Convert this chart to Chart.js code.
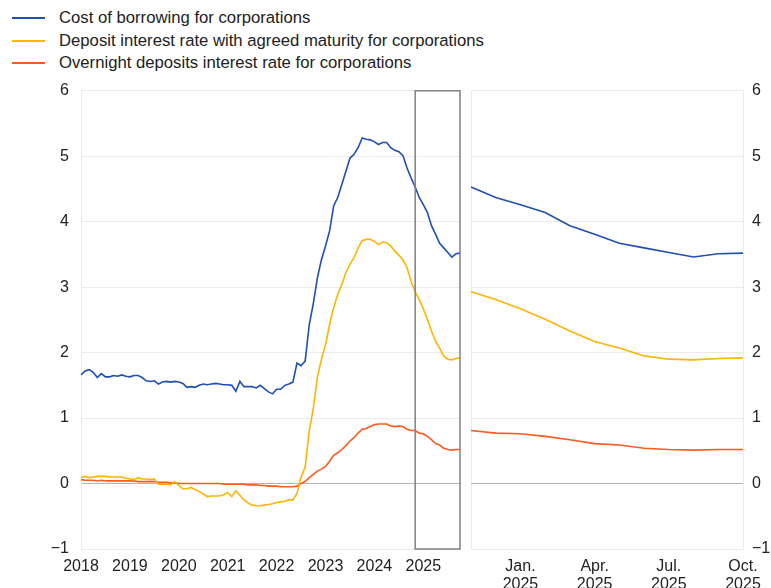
<!DOCTYPE html>
<html>
<head>
<meta charset="utf-8">
<script src="https://cdn.jsdelivr.net/npm/chart.js@4"></script>
<style>
  body { margin: 0; width: 771px; height: 588px; background: #fff; position: relative; overflow: hidden;
         font-family: "Liberation Sans", Arial, sans-serif; }
  #legend { position: absolute; left: 12px; top: 7px; font-size: 16.7px; color: #222; }
  .item { height: 22.5px; display: flex; align-items: center; white-space: nowrap; }
  .swatch { width: 33px; height: 2px; margin-right: 14px; }
  #leftChart { position: absolute; left: 0; top: 70px; }
  #rightChart { position: absolute; left: 462px; top: 73px; }
</style>
</head>
<body>
<div id="legend"></div>
<canvas id="leftChart" width="470" height="518"></canvas>
<canvas id="rightChart" width="309" height="515"></canvas>
<script>
// Monthly data, Jan 2018 - Oct 2024
const blueHist = [
  1.66, 1.72, 1.74, 1.70, 1.62, 1.68, 1.63, 1.63, 1.65, 1.64,
  1.66, 1.64, 1.63, 1.65, 1.65, 1.62, 1.57, 1.56, 1.57, 1.52,
  1.55, 1.56, 1.55, 1.56, 1.55, 1.53, 1.47, 1.48, 1.47, 1.50,
  1.52, 1.51, 1.52, 1.53, 1.52, 1.51, 1.51, 1.50, 1.41, 1.56,
  1.48, 1.48, 1.48, 1.46, 1.50, 1.45, 1.40, 1.37, 1.44, 1.44,
  1.50, 1.52, 1.55, 1.84, 1.80, 1.87, 2.42, 2.75, 3.14, 3.42,
  3.63, 3.86, 4.24, 4.37, 4.57, 4.77, 4.97, 5.03, 5.13, 5.28,
  5.26, 5.25, 5.22, 5.18, 5.21, 5.21, 5.13, 5.09, 5.07, 5.01,
  4.82, 4.67
];
const yellowHist = [
  0.09, 0.11, 0.09, 0.10, 0.11, 0.11, 0.11, 0.10, 0.10, 0.10,
  0.10, 0.08, 0.07, 0.06, 0.09, 0.07, 0.07, 0.06, 0.07, -0.01,
  -0.01, -0.01, -0.02, 0.03, -0.03, -0.08, -0.08, -0.06, -0.09, -0.12,
  -0.16, -0.20, -0.19, -0.19, -0.19, -0.17, -0.14, -0.20, -0.11, -0.18,
  -0.25, -0.30, -0.33, -0.34, -0.34, -0.33, -0.32, -0.31, -0.29, -0.28,
  -0.27, -0.25, -0.25, -0.15, 0.10, 0.25, 0.80, 1.15, 1.62, 1.90,
  2.12, 2.43, 2.69, 2.89, 3.04, 3.22, 3.35, 3.45, 3.60, 3.71,
  3.73, 3.73, 3.70, 3.65, 3.69, 3.68, 3.63, 3.55, 3.49, 3.42,
  3.30, 3.09
];
const redHist = [
  0.06, 0.05, 0.05, 0.05, 0.04, 0.05, 0.04, 0.04, 0.04, 0.04,
  0.04, 0.04, 0.04, 0.04, 0.03, 0.03, 0.03, 0.03, 0.03, 0.02,
  0.02, 0.02, 0.01, 0.01, 0.00, 0.00, 0.00, 0.00, 0.00, 0.00,
  0.00, 0.00, 0.00, 0.00, 0.00, -0.01, -0.01, -0.01, -0.01, -0.01,
  -0.01, -0.02, -0.02, -0.02, -0.03, -0.03, -0.04, -0.04, -0.04, -0.05,
  -0.05, -0.05, -0.05, -0.04, 0.00, 0.03, 0.09, 0.14, 0.19, 0.22,
  0.26, 0.34, 0.43, 0.47, 0.52, 0.58, 0.65, 0.70, 0.77, 0.83,
  0.84, 0.87, 0.90, 0.91, 0.91, 0.91, 0.88, 0.87, 0.88, 0.87,
  0.83, 0.81
];

// Nov 2024 - Oct 2025 (the zoomed panel)
const recentMonths = ['2024-11', '2024-12', '2025-01', '2025-02', '2025-03', '2025-04',
                      '2025-05', '2025-06', '2025-07', '2025-08', '2025-09', '2025-10'];
const recentTicks = ['', '', ['Jan.', '2025'], '', '', ['Apr.', '2025'], '', '', ['Jul.', '2025'], '', '', ['Oct.', '2025']];
const blueRecent = [4.53, 4.37, 4.26, 4.14, 3.94, 3.81, 3.67, 3.60, 3.53, 3.46, 3.51, 3.52];
const yellowRecent = [2.93, 2.81, 2.67, 2.51, 2.33, 2.17, 2.07, 1.95, 1.90, 1.89, 1.91, 1.92];
const redRecent = [0.81, 0.77, 0.76, 0.72, 0.67, 0.61, 0.59, 0.54, 0.52, 0.51, 0.52, 0.52];

const years = [2018, 2019, 2020, 2021, 2022, 2023, 2024];

const seriesNames = [
  'Cost of borrowing for corporations',
  'Deposit interest rate with agreed maturity for corporations',
  'Overnight deposits interest rate for corporations'
];
const seriesColors = ['#1f4eb4', '#ffb400', '#ff5a1e'];

// month labels for the long panel
const leftLabels = [];
years.forEach(y => {
  for (let m = 1; m <= 12; m++) {
    const lab = y + '-' + String(m).padStart(2, '0');
    if (!recentMonths.includes(lab)) leftLabels.push(lab);
  }
});
leftLabels.push(...recentMonths);

const leftSeries = [blueHist.concat(blueRecent), yellowHist.concat(yellowRecent), redHist.concat(redRecent)];
const rightSeries = [blueRecent, yellowRecent, redRecent];

// legend
const legendEl = document.getElementById('legend');
seriesNames.forEach((name, i) => {
  legendEl.insertAdjacentHTML('beforeend',
    `<div class="item"><span class="swatch" style="background:${seriesColors[i]}"></span>${name}</div>`);
});

const tickFont = { family: '"Liberation Sans", Arial, sans-serif', size: 16, lineHeight: 1.1 };
const minus = v => String(v).replace('-', '\u2212');
const gridColor = c => c.tick && c.tick.value === 0 ? '#b5b5b5' : '#ebebeb';

function makeDatasets(series) {
  return series.map((data, i) => ({
    label: seriesNames[i],
    data: data,
    borderColor: seriesColors[i],
    borderWidth: 1.6,
    pointRadius: 0,
    fill: false,
    tension: 0
  }));
}

const highlightBox = {
  id: 'highlightBox',
  afterDatasetsDraw(chart) {
    const { ctx, chartArea, scales } = chart;
    const x1 = scales.x.getPixelForValue(leftLabels.indexOf(recentMonths[0]));
    const x2 = scales.x.getPixelForValue(leftLabels.length - 1);
    ctx.save();
    ctx.strokeStyle = '#808080';
    ctx.lineWidth = 1.5;
    ctx.strokeRect(x1, chartArea.top, x2 - x1, chartArea.bottom - chartArea.top);
    ctx.restore();
  }
};

new Chart(document.getElementById('leftChart'), {
  type: 'line',
  data: { labels: leftLabels, datasets: makeDatasets(leftSeries) },
  plugins: [highlightBox],
  options: {
    responsive: false,
    animation: false,
    layout: { padding: { top: 0, right: 10, left: 0, bottom: 0 } },
    plugins: { legend: { display: false }, tooltip: { enabled: false } },
    scales: {
      x: {
        offset: false,
        grid: { display: false, drawTicks: false },
        border: { display: false },
        ticks: {
          autoSkip: false, maxRotation: 0, padding: 9, color: '#222', font: tickFont,
          callback: (v, i) => leftLabels[i].endsWith('-01') ? leftLabels[i].slice(0, 4) : ''
        },
        afterFit: s => { s.height = 39; }
      },
      y: {
        min: -1, max: 6,
        ticks: { stepSize: 1, padding: 12, color: '#222', font: tickFont, callback: minus },
        grid: { drawTicks: false, color: gridColor },
        border: { display: true, color: '#ebebeb' },
        afterFit: s => { s.width = 81; }
      }
    }
  }
});

new Chart(document.getElementById('rightChart'), {
  type: 'line',
  data: { labels: recentMonths, datasets: makeDatasets(rightSeries) },
  options: {
    responsive: false,
    animation: false,
    layout: { padding: 0 },
    plugins: { legend: { display: false }, tooltip: { enabled: false } },
    scales: {
      x: {
        offset: false,
        grid: { display: true, drawTicks: false, color: c => c.index === 0 ? '#ebebeb' : 'rgba(0,0,0,0)' },
        border: { display: false },
        ticks: {
          autoSkip: false, maxRotation: 0, padding: 9, color: '#222', font: tickFont,
          callback: (v, i) => recentTicks[i]
        },
        afterFit: s => { s.height = 39; }
      },
      y: {
        position: 'right',
        min: -1, max: 6,
        ticks: { stepSize: 1, padding: 9, color: '#222', font: tickFont, callback: minus },
        grid: { drawTicks: false, color: gridColor },
        border: { display: true, color: '#ebebeb' },
        afterFit: s => { s.width = 28; }
      }
    }
  }
});
</script>
</body>
</html>
